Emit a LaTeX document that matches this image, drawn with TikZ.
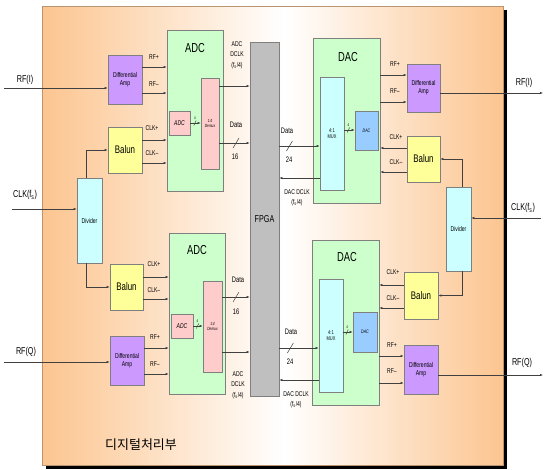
\documentclass[tikz,border=0pt]{standalone}
\usepackage{fontspec}
\setmainfont{Liberation Sans}[FakeStretch=0.72]
\newfontfamily\kofont{Noto Sans CJK KR}
\usepackage{tikz}
\usetikzlibrary{arrows.meta,positioning}
\definecolor{ampviolet}{HTML}{CC99FF}
\definecolor{convgreen}{HTML}{CCFFCC}
\definecolor{rose}{HTML}{FFCCCC}
\definecolor{lemon}{HTML}{FFFF99}
\definecolor{ice}{HTML}{CCFFFF}
\definecolor{dacblue}{HTML}{99CCFF}
\definecolor{fpgagray}{HTML}{BFBFBF}
\definecolor{peach}{HTML}{FCC590}
\definecolor{wirec}{HTML}{404040}
\definecolor{edgec}{HTML}{7F7F7F}
\definecolor{panelrim}{HTML}{B89470}

\begin{document}
\begin{tikzpicture}[x=1pt,y=-1pt,
  every node/.style={font=\fontsize{7}{8}\selectfont,align=center,inner sep=0pt},
  box/.style={draw=edgec,line width=0.7pt},
  ampbox/.style={box,fill=ampviolet,minimum width=34pt,minimum height=49pt,font=\fontsize{7}{8}\selectfont},
  balunbox/.style={box,fill=lemon,minimum width=34pt,minimum height=46pt,font=\fontsize{11}{12}\selectfont},
  divbox/.style={box,fill=ice,minimum width=25pt,minimum height=85pt},
  adcbox/.style={box,fill=convgreen,minimum width=56pt,minimum height=161pt},
  dacbox/.style={box,fill=convgreen,minimum width=67pt,minimum height=165pt},
  innerbox/.style={box,fill=rose,minimum width=21pt,minimum height=24pt,font=\fontsize{7}{8}\selectfont\itshape},
  demuxbox/.style={box,fill=rose,minimum width=18pt,minimum height=91pt,font=\fontsize{4.5}{5.5}\selectfont\itshape},
  muxbox/.style={box,fill=ice,minimum width=24pt,minimum height=113pt,font=\fontsize{5.5}{6.5}\selectfont},
  dacinner/.style={box,fill=dacblue,minimum width=23pt,minimum height=39pt,font=\fontsize{5}{6}\selectfont\itshape},
  ttl/.style={font=\fontsize{13}{14}\selectfont},
  port/.style={font=\fontsize{10}{11}\selectfont},
  lbl/.style={font=\fontsize{7}{10.5}\selectfont},
  tiny/.style={font=\fontsize{4}{5}\selectfont},
  wire/.style={draw=wirec,line width=0.5pt,-{Latex[length=3pt,width=2.4pt]}},
  slash/.style={draw=wirec,line width=0.5pt}]
\useasboundingbox (0,0) rectangle (544,469);
% panel
\fill[black] (46,10) rectangle (507,469);
\shade[left color=peach,right color=white] (42,6) rectangle (285,465);
\shade[left color=white,right color=peach] (285,6) rectangle (503,465);
\draw[panelrim,line width=0.6pt] (42,6) rectangle (503,465);
\node[font=\kofont\fontsize{13}{14}\selectfont] (unit) at (141,445) {디지털처리부};

% blocks
\node[box,fill=fpgagray,minimum width=29pt,minimum height=354pt,font=\fontsize{10}{11}\selectfont] (fpga) at (264.5,219) {FPGA};

\node[ampbox] (ampIL) at (125,79.5) {Differential\\Amp};
\node[balunbox] (balunIL) at (125,150) {Balun};
\node[divbox] (divL) at (89.5,220.5) {Divider};
\node[balunbox,minimum width=33pt] (balunQL) at (126.5,287) {Balun};
\node[ampbox] (ampQL) at (127,360.5) {Differential\\Amp};

\node[adcbox] (adcI) at (195,110.5) {};
\node[ttl] (adcIt) at (195,48) {ADC};
\node[innerbox] (adcsI) at (179.5,123) {ADC};
\node[demuxbox] (demuxI) at (210,123.5) {1:4\\Demux};
\node[adcbox] (adcQ) at (197,313.5) {};
\node[ttl] (adcQt) at (197,250) {ADC};
\node[innerbox,minimum width=22pt] (adcsQ) at (182,326) {ADC};
\node[demuxbox,minimum width=19pt] (demuxQ) at (212.5,326.5) {1:4\\Demux};

\node[dacbox] (dacI) at (346.5,120.5) {};
\node[ttl] (dacIt) at (348,57) {DAC};
\node[muxbox] (muxI) at (332,133.5) {4:1\\MUX};
\node[dacinner] (dacsI) at (366.5,130.5) {DAC};
\node[dacbox] (dacQ) at (345.5,322.5) {};
\node[ttl] (dacQt) at (347,257) {DAC};
\node[muxbox] (muxQ) at (331,335.5) {4:1\\MUX};
\node[dacinner,minimum width=24pt,minimum height=40pt] (dacsQ) at (365,332) {DAC};

\node[ampbox,minimum width=33pt,minimum height=48pt] (ampIR) at (423.5,88) {Differential\\Amp};
\node[balunbox,minimum width=33pt] (balunIR) at (423.5,159) {Balun};
\node[divbox,minimum height=84pt] (divR) at (458.5,229) {Divider};
\node[balunbox,minimum height=47pt] (balunQR) at (421,295.5) {Balun};
\node[ampbox] (ampQR) at (421,369.5) {Differential\\Amp};

% outside ports
\coordinate (rfIin) at (4,88);
\coordinate (clkLin) at (12,209);
\coordinate (rfQin) at (4,362);
\coordinate (rfIout) at (543,93);
\coordinate (clkRin) at (541,218);
\coordinate (rfQout) at (543,375);
\node[port] (rfIinl) at (25,80) {RF(I)};
\node[port] (clkLinl) at (25,195) {CLK(f\textsubscript{s})};
\node[port] (rfQinl) at (26,352) {RF(Q)};
\node[port] (rfIoutl) at (524,83) {RF(I)};
\node[port] (clkRinl) at (523,208) {CLK(f\textsubscript{s})};
\node[port] (rfQoutl) at (522,363) {RF(Q)};

% left side, I
\draw[wire] (rfIin) -- (rfIin -| ampIL.west);
\draw[wire] (ampIL.east |- 0,67) -- (adcI.west |- 0,67);
\draw[wire] (ampIL.east |- 0,93) -- (adcI.west |- 0,93);
\draw[wire] (balunIL.east |- 0,140) -- (adcI.west |- 0,140);
\draw[wire] (balunIL.east |- 0,163) -- (adcI.west |- 0,163);
\draw[wire] (clkLin) -- (clkLin -| divL.west);
\draw[wire] ([xshift=-3pt]divL.north) |- (balunIL.west);
\draw[wire] ([xshift=-3pt]divL.south) |- (balunQL.west);
\node[lbl] (rfpIL) at (154,57) {RF+};
\node[lbl] (rfmIL) at (154,84) {RF--};
\node[lbl] (ckpIL) at (152,128) {CLK+};
\node[lbl] (ckmIL) at (152,153) {CLK--};
\draw[wire] (adcsI) -- coordinate[pos=.45] (nAI) (demuxI.west |- adcsI);
\draw[slash] ([shift={(-1.2pt,-2.5pt)}]nAI) -- ([shift={(1.2pt,2.5pt)}]nAI);
\node[tiny] (nAIl) at ([yshift=5pt]nAI) {4};
\draw[wire] (demuxI.east |- 0,86) -- (fpga.west |- 0,86);
\draw[wire] (demuxI.east |- 0,143) -- coordinate[pos=.55] (busAI) (fpga.west |- 0,143);
\draw[slash] ([shift={(-3pt,-5pt)}]busAI) -- ([shift={(3pt,5pt)}]busAI);
\node[lbl] (dclkAI) at (237,55) {ADC\\DCLK\\(f\textsubscript{s}/4)};
\node[lbl,font=\fontsize{8}{9}\selectfont] (dataAI) at (236,125) {Data};
\node[lbl,font=\fontsize{8}{9}\selectfont] (wAI) at (235,157) {16};

% left side, Q
\draw[wire] (rfQin) -- (rfQin -| ampQL.west);
\draw[wire] (ampQL.east |- 0,348) -- (adcQ.west |- 0,348);
\draw[wire] (ampQL.east |- 0,374) -- (adcQ.west |- 0,374);
\draw[wire] (balunQL.east |- 0,277) -- (adcQ.west |- 0,277);
\draw[wire] (balunQL.east |- 0,299) -- (adcQ.west |- 0,299);
\node[lbl] (ckpQL) at (154,264) {CLK+};
\node[lbl] (ckmQL) at (154,290) {CLK--};
\node[lbl] (rfpQL) at (155,337) {RF+};
\node[lbl] (rfmQL) at (155,364) {RF--};
\draw[wire] (adcsQ) -- coordinate[pos=.45] (nAQ) (demuxQ.west |- adcsQ);
\draw[slash] ([shift={(-1.2pt,-2.5pt)}]nAQ) -- ([shift={(1.2pt,2.5pt)}]nAQ);
\node[tiny] (nAQl) at ([yshift=5pt]nAQ) {4};
\draw[wire] (demuxQ.east |- 0,297) -- coordinate[pos=.5] (busAQ) (fpga.west |- 0,297);
\draw[slash] ([shift={(-3pt,-5pt)}]busAQ) -- ([shift={(3pt,5pt)}]busAQ);
\draw[wire] (demuxQ.east |- 0,352) -- (fpga.west |- 0,352);
\node[lbl,font=\fontsize{8}{9}\selectfont] (dataAQ) at (238,280) {Data};
\node[lbl,font=\fontsize{8}{9}\selectfont] (wAQ) at (236,312) {16};
\node[lbl] (dclkAQ) at (238,385) {ADC\\DCLK\\(f\textsubscript{s}/4)};

% right side, I
\draw[wire] (fpga.east |- 0,146) -- coordinate[pos=.25] (busDI) (muxI.west |- 0,146);
\draw[slash] ([shift={(-3pt,-5pt)}]busDI) -- ([shift={(3pt,5pt)}]busDI);
\draw[wire] (muxI.west |- 0,178) -- (fpga.east |- 0,178);
\node[lbl,font=\fontsize{8}{9}\selectfont] (dataDI) at (287,131) {Data};
\node[lbl,font=\fontsize{8}{9}\selectfont] (wDI) at (289,160) {24};
\node[lbl,font=\fontsize{7}{9.5}\selectfont] (dclkDI) at (297,198) {DAC DCLK\\(f\textsubscript{s}/4)};
\draw[wire] (muxI.east |- 0,130) -- coordinate[pos=.4] (nDI) (dacsI.west |- 0,130);
\draw[slash] ([shift={(-1.2pt,-2.5pt)}]nDI) -- ([shift={(1.2pt,2.5pt)}]nDI);
\node[tiny] (nDIl) at ([yshift=5pt]nDI) {4};
\draw[wire] (dacI.east |- 0,75) -- (ampIR.west |- 0,75);
\draw[wire] (dacI.east |- 0,102) -- (ampIR.west |- 0,102);
\draw[wire] (ampIR.east |- rfIout) -- (rfIout);
\draw[wire] (balunIR.west |- 0,148) -- (dacI.east |- 0,148);
\draw[wire] (balunIR.west |- 0,172) -- (dacI.east |- 0,172);
\draw[wire] (clkRin) -- (clkRin -| divR.east);
\draw[wire] ([xshift=4pt]divR.north) |- (balunIR.east);
\draw[wire] ([xshift=4pt]divR.south) |- (balunQR.east);
\node[lbl] (rfpIR) at (395,64) {RF+};
\node[lbl] (rfmIR) at (395,91) {RF--};
\node[lbl] (ckpIR) at (396,137) {CLK+};
\node[lbl] (ckmIR) at (396,162) {CLK--};

% right side, Q
\draw[wire] (fpga.east |- 0,348) -- coordinate[pos=.28] (busDQ) (muxQ.west |- 0,348);
\draw[slash] ([shift={(-3pt,-5pt)}]busDQ) -- ([shift={(3pt,5pt)}]busDQ);
\draw[wire] (muxQ.west |- 0,380) -- (fpga.east |- 0,380);
\node[lbl,font=\fontsize{8}{9}\selectfont] (dataDQ) at (291,332) {Data};
\node[lbl,font=\fontsize{8}{9}\selectfont] (wDQ) at (290,362) {24};
\node[lbl,font=\fontsize{7}{9.5}\selectfont] (dclkDQ) at (296,400) {DAC DCLK\\(f\textsubscript{s}/4)};
\draw[wire] (muxQ.east |- 0,332) -- coordinate[pos=.4] (nDQ) (dacsQ.west |- 0,332);
\draw[slash] ([shift={(-1.2pt,-2.5pt)}]nDQ) -- ([shift={(1.2pt,2.5pt)}]nDQ);
\node[tiny] (nDQl) at ([yshift=5pt]nDQ) {4};
\draw[wire] (balunQR.west |- 0,285) -- (dacQ.east |- 0,285);
\draw[wire] (balunQR.west |- 0,308) -- (dacQ.east |- 0,308);
\draw[wire] (dacQ.east |- 0,356) -- (ampQR.west |- 0,356);
\draw[wire] (dacQ.east |- 0,383) -- (ampQR.west |- 0,383);
\draw[wire] (ampQR.east |- rfQout) -- (rfQout);
\node[lbl] (ckpQR) at (393,272) {CLK+};
\node[lbl] (ckmQR) at (393,298) {CLK--};
\node[lbl] (rfpQR) at (392,345) {RF+};
\node[lbl] (rfmQR) at (392,371) {RF--};
\end{tikzpicture}
\end{document}
